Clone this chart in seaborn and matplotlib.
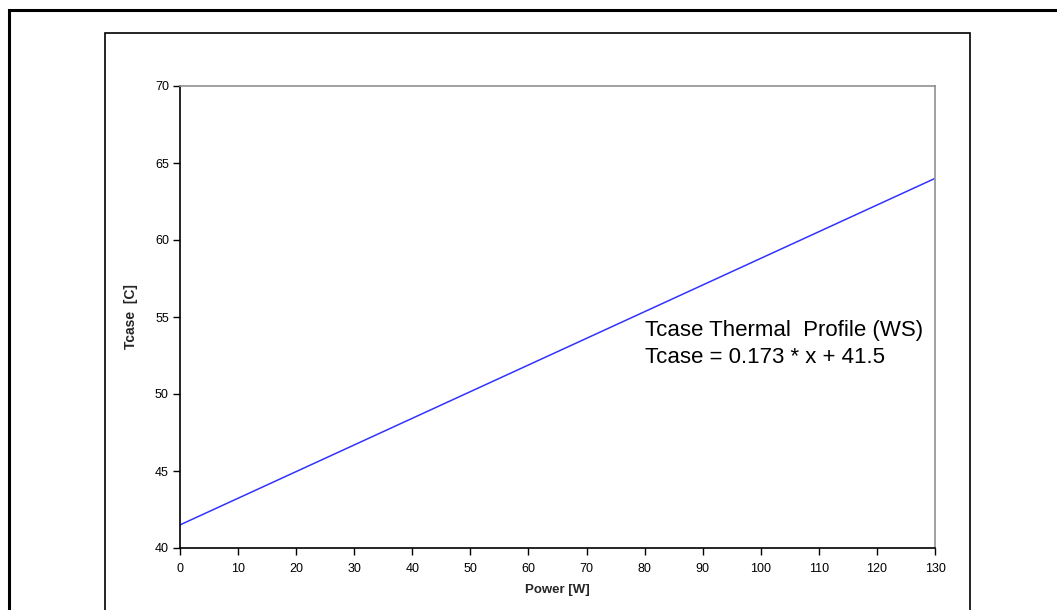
import matplotlib.pyplot as plt
from matplotlib.patches import Rectangle
import seaborn as sns
import pandas as pd

# dati
power = [0, 130]
tcase = [41.5, 64.0]
x_ticks = list(range(0, 131, 10))
y_ticks = list(range(40, 71, 5))
label_line1 = "Tcase Thermal  Profile (WS)"
label_line2 = "Tcase = 0.173 * x + 41.5"

df = pd.DataFrame({"Power": power, "Tcase": tcase})

sns.set_theme(style="white")
plt.rcParams['font.family'] = ['Liberation Sans', 'DejaVu Sans']

W, H = 1057, 610
fig = plt.figure(figsize=(W / 100, H / 100), dpi=100)

# cornici esterne
fig.add_artist(Rectangle((9 / W, -0.05), 1.2, 1.05 - 10 / H, transform=fig.transFigure,
                         fill=False, edgecolor='black', linewidth=2.2))
fig.add_artist(Rectangle((105 / W, -0.05), 865 / W, 1 - 33 / H + 0.05, transform=fig.transFigure,
                         fill=False, edgecolor='black', linewidth=1.2))

ax = fig.add_axes([180 / W, 1 - 548 / H, (935 - 180) / W, (548 - 86) / H])
sns.lineplot(data=df, x="Power", y="Tcase", ax=ax, color='#3333ff', linewidth=1.1)

ax.set_xlim(0, 130)
ax.set_ylim(40, 70)
ax.set_xticks(x_ticks)
ax.set_yticks(y_ticks)
ax.tick_params(axis='both', direction='out', length=5, width=1, labelsize=9, colors='black',
               pad=3)
ax.tick_params(axis='x', pad=6)
ax.xaxis.set_ticks_position('bottom')
ax.yaxis.set_ticks_position('left')

for side in ['left', 'bottom']:
    ax.spines[side].set_color('black')
    ax.spines[side].set_linewidth(1.2)
for side in ['top', 'right']:
    ax.spines[side].set_color('#909090')
    ax.spines[side].set_linewidth(1.2)

ax.set_xlabel("Power [W]", fontsize=9.5, fontweight='bold', labelpad=6)
ax.set_ylabel("Tcase  [C]", fontsize=10, fontweight='bold', labelpad=12)

ax.text(80, 54.15, label_line1, fontsize=16, color='black', va='center', ha='left')
ax.text(80, 52.35, label_line2, fontsize=16, color='black', va='center', ha='left')

fig.savefig("out.png", dpi=100)
